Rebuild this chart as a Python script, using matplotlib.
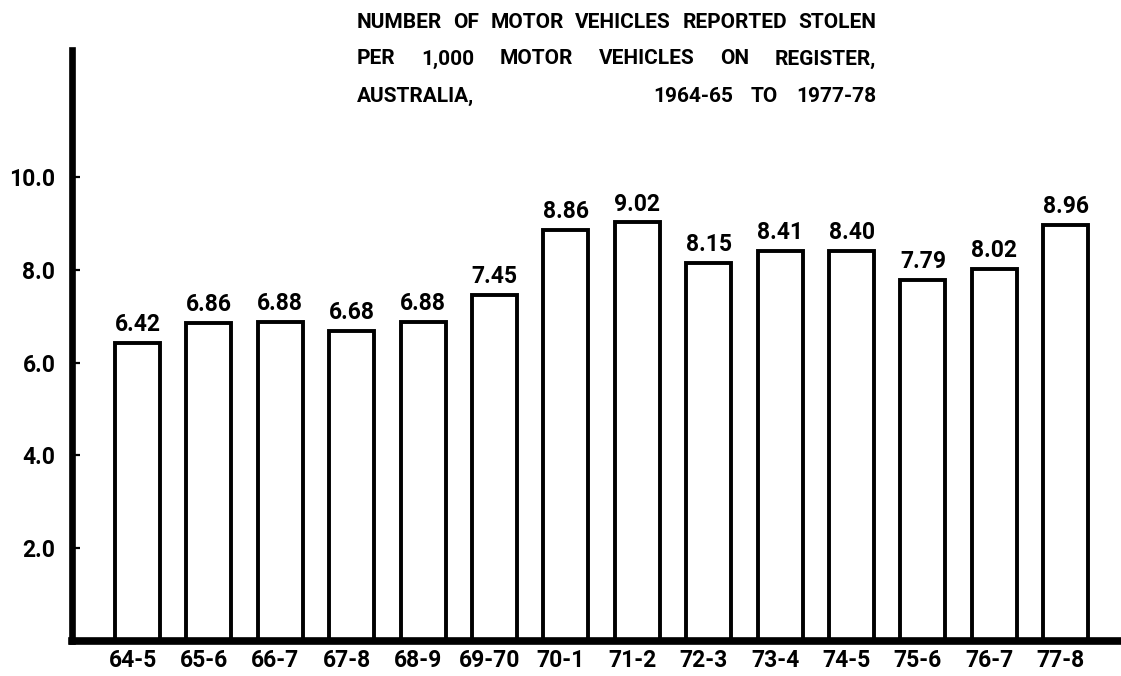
import matplotlib
matplotlib.use("Agg")
import matplotlib.pyplot as plt
from matplotlib.transforms import ScaledTranslation

# ---- data ----
periods = ["64-5", "65-6", "66-7", "67-8", "68-9", "69-70", "70-1",
           "71-2", "72-3", "73-4", "74-5", "75-6", "76-7", "77-8"]
rates = [6.42, 6.86, 6.88, 6.68, 6.88, 7.45, 8.86,
         9.02, 8.15, 8.41, 8.40, 7.79, 8.02, 8.96]
rate_labels = ["6.42", "6.86", "6.88", "6.68", "6.88", "7.45", "8.86",
               "9.02", "8.15", "8.41", "8.40", "7.79", "8.02", "8.96"]
y_ticks = [2.0, 4.0, 6.0, 8.0, 10.0]
y_tick_labels = ["2.0", "4.0", "6.0", "8.0", "10.0"]
title_lines = [
    ["NUMBER", "OF", "MOTOR", "VEHICLES", "REPORTED", "STOLEN"],
    ["PER", "1,000", "MOTOR", "VEHICLES", "ON", "REGISTER,"],
]
title_line3_left = "AUSTRALIA,"
title_line3_right = ["1964-65", "TO", "1977-78"]

FONT = ["Roboto", "DejaVu Sans"]
plt.rcParams["font.family"] = FONT
plt.rcParams["font.weight"] = "bold"

W, H = 1121, 676
fig = plt.figure(figsize=(W / 100, H / 100), dpi=100)
fig.patch.set_facecolor("white")

# axes placement in pixels
ax_left, ax_right = 72, 1121
ax_bottom, ax_top = 641, 50
ax = fig.add_axes([ax_left / W, (H - ax_bottom) / H,
                   (ax_right - ax_left) / W, (ax_bottom - ax_top) / H])

spacing_px = 71.4
first_center_px = 137.5
x0 = -(first_center_px - ax_left) / spacing_px
x1 = x0 + (ax_right - ax_left) / spacing_px
px_per_unit = 46.4
ax.set_xlim(x0, x1)
ax.set_ylim(0, (ax_bottom - ax_top) / px_per_unit)

xs = list(range(len(periods)))
ax.bar(xs, rates, width=0.63, color="white", edgecolor="black",
       linewidth=2.8, zorder=2)

for x, v, lab in zip(xs, rates, rate_labels):
    ax.annotate(lab, (x, v), xytext=(0, 5), textcoords="offset points",
                ha="center", va="bottom", fontsize=16.5, fontweight="bold")

for s in ["top", "right"]:
    ax.spines[s].set_visible(False)
ax.spines["left"].set_linewidth(4.8)
ax.spines["bottom"].set_linewidth(5.5)
for s in ["left", "bottom"]:
    ax.spines[s].set_capstyle("projecting")
    ax.spines[s].set_zorder(3)

ax.set_yticks(y_ticks)
ax.set_yticklabels(y_tick_labels, fontsize=16.5, fontweight="bold")
ax.tick_params(axis="y", direction="in", length=6, width=1.6, pad=12)
ax.set_xticks(xs)
ax.set_xticklabels(periods, fontsize=16.5, fontweight="bold")
ax.tick_params(axis="x", length=0, pad=6)
shift = ScaledTranslation(-5 / 100, 0, fig.dpi_scale_trans)
for lbl in ax.get_xticklabels():
    lbl.set_transform(lbl.get_transform() + shift)

# ---- title (justified lines) ----
tx0, tx1 = 357, 876
line_y = [22, 59, 96]
TITLE_SIZE = 15
renderer = fig.canvas.get_renderer()


def fig_xy(px, py):
    return px / W, (H - py) / H


def place_justified(words, left_px, right_px, y_px):
    texts = [fig.text(0, 0, w, fontsize=TITLE_SIZE, fontweight="bold",
                      ha="left", va="center") for w in words]
    widths = [t.get_window_extent(renderer).width for t in texts]
    gap = (right_px - left_px - sum(widths)) / max(len(words) - 1, 1)
    cur = left_px
    for t, wd in zip(texts, widths):
        t.set_position(fig_xy(cur, y_px))
        cur += wd + gap


for words, y in zip(title_lines, line_y[:2]):
    place_justified(words, tx0, tx1, y)

fig.text(*fig_xy(tx0, line_y[2]), title_line3_left, fontsize=TITLE_SIZE,
         fontweight="bold", ha="left", va="center")
place_justified(title_line3_right, tx0 + 0.57 * (tx1 - tx0), tx1, line_y[2])

fig.savefig("out.png", dpi=100, facecolor="white")
